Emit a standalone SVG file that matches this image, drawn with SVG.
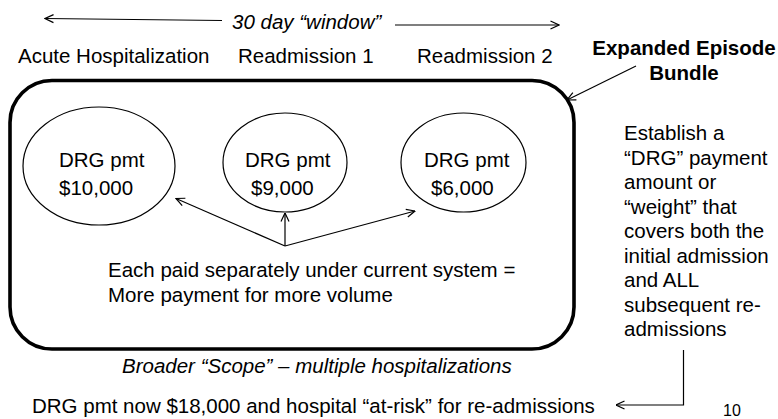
<svg xmlns="http://www.w3.org/2000/svg" width="778" height="419" viewBox="0 0 778 419">
  <style>
    text { font-family: "Liberation Sans", Arial, sans-serif; font-size: 20.5px; fill: #000; }
    .it { font-style: italic; }
    .b { font-weight: bold; }
    .ln { stroke: #000; stroke-width: 1.2; fill: none; }
    .node { fill: #fff; stroke: #000; stroke-width: 1.2; }
  </style>
  <defs>
    <marker id="arr" viewBox="0 0 10 10" refX="9.5" refY="5" markerWidth="10" markerHeight="10" markerUnits="userSpaceOnUse" orient="auto">
      <path d="M1,1 L9.5,5 L1,9" fill="none" stroke="#000" stroke-width="1.2"/>
    </marker>
  </defs>
  <rect width="778" height="419" fill="#fff"/>

  <g id="window">
    <text class="it" x="232" y="29">30 day “window”</text>
  </g>
  <g id="labels">
    <text x="18" y="63">Acute Hospitalization</text>
    <text x="238" y="63">Readmission 1</text>
    <text x="417" y="63">Readmission 2</text>
  </g>
  <g id="bundle-label">
    <text class="b" x="684" y="55" text-anchor="middle">Expanded Episode</text>
    <text class="b" x="684" y="80" text-anchor="middle">Bundle</text>
  </g>

  <g id="bundle">
    <rect x="10" y="80.5" width="564" height="268.5" rx="42" ry="42" fill="none" stroke="#000" stroke-width="3.6"/>
  </g>

  <g id="drg1">
    <ellipse class="node" cx="99" cy="166" rx="76" ry="59"/>
    <text x="59" y="167">DRG pmt</text>
    <text x="59" y="195">$10,000</text>
  </g>
  <g id="drg2">
    <ellipse class="node" cx="285" cy="162.5" rx="62" ry="49.5"/>
    <text x="245" y="167">DRG pmt</text>
    <text x="251" y="195">$9,000</text>
  </g>
  <g id="drg3">
    <ellipse class="node" cx="463.5" cy="162.5" rx="62.5" ry="49.5"/>
    <text x="424" y="167">DRG pmt</text>
    <text x="431" y="195">$6,000</text>
  </g>

  <g id="current-system">
    <text x="108" y="277">Each paid separately under current system =</text>
    <text x="108" y="302">More payment for more volume</text>
  </g>

  <g id="scope">
    <text class="it" x="122" y="372.5">Broader “Scope” – multiple hospitalizations</text>
  </g>

  <g id="establish">
    <text x="624" y="140">Establish a</text>
    <text x="624" y="164.5">“DRG” payment</text>
    <text x="624" y="189">amount or</text>
    <text x="624" y="213.5">“weight” that</text>
    <text x="624" y="238">covers both the</text>
    <text x="624" y="262.5">initial admission</text>
    <text x="624" y="287">and ALL</text>
    <text x="624" y="311.5">subsequent re-</text>
    <text x="624" y="336">admissions</text>
  </g>

  <g id="result">
    <text x="32" y="413">DRG pmt now $18,000 and hospital “at-risk” for re-admissions</text>
  </g>

  <g id="page-number">
    <text x="723" y="416" style="font-size:16px">10</text>
  </g>

  <g id="connectors">
    <line class="ln" x1="222" y1="20.5" x2="45" y2="18.5" marker-end="url(#arr)"/>
    <line class="ln" x1="395" y1="25" x2="559" y2="25" marker-end="url(#arr)"/>
    <line class="ln" x1="636" y1="66" x2="567" y2="100" marker-end="url(#arr)"/>
    <line class="ln" x1="285" y1="246" x2="176" y2="198.5" marker-end="url(#arr)"/>
    <line class="ln" x1="285" y1="246" x2="285" y2="213" marker-end="url(#arr)"/>
    <line class="ln" x1="285" y1="246" x2="415" y2="211" marker-end="url(#arr)"/>
    <polyline class="ln" points="683.5,350 683.5,405 616,405" marker-end="url(#arr)"/>
  </g>
</svg>
